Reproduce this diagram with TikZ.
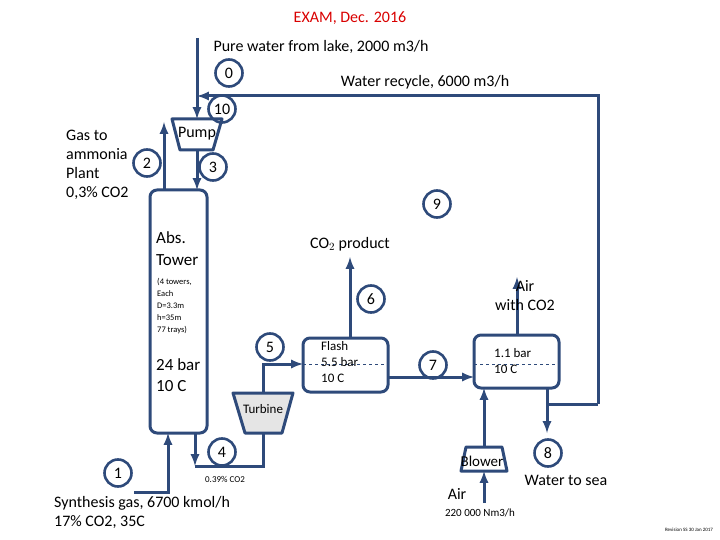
\documentclass[tikz,border=0pt]{standalone}
\usepackage{fontspec}
\setmainfont{Carlito}
\usetikzlibrary{calc}
\definecolor{flow}{RGB}{46,74,122}
\tikzset{
  pipe/.style={draw=flow, line width=3pt, -latex},
  line/.style={draw=flow, line width=3pt},
  num/.style={circle, draw=flow, line width=2.6pt, minimum size=27pt, inner sep=0pt, font=\fontsize{16}{16}\selectfont},
  unit/.style={draw=flow, line width=3pt, rounded corners=7pt},
  lbl/.style={font=\fontsize{16}{19}\selectfont, align=left, inner sep=0pt}
}
\begin{document}
\begin{tikzpicture}[x=1pt, y=-1pt]
\useasboundingbox (0,0) rectangle (720,540);

% units
\draw[unit] (150,190) rectangle (207,433);
\draw[unit] (303,338) rectangle (388,392);
\draw[unit] (474,335) rectangle (559,388);
\draw[flow, dashed, thin] (303,364) -- (388,364);
\draw[flow, dashed, thin] (474,364) -- (559,364);
\draw[line, line join=round] (172,119) -- (222,119) -- (213,150) -- (180,150) -- cycle;
\draw[line, fill=black!10, line join=round] (233,393) -- (293,393) -- (282,433) -- (245,433) -- cycle;
\draw[line, line join=round] (466,447) -- (502,447) -- (507,471) -- (461,471) -- cycle;

% connection points
\coordinate (lake) at (197,38);
\coordinate (pumpin) at (197,119);
\coordinate (pumpout) at (197,150);
\coordinate (towertop) at (197,190);
\coordinate (gasout) at (164,122);
\coordinate (gastop) at (164,190);
\coordinate (feed) at (134,492);
\coordinate (towerbot) at (168,433);
\coordinate (liqout) at (195,433);
\coordinate (turbbot) at (263,433);
\coordinate (turbtop) at (263,393);
\coordinate (flashin) at (303,364);
\coordinate (flashtop) at (350,338);
\coordinate (co2) at (350,257);
\coordinate (flashout) at (388,377);
\coordinate (stripin) at (474,377);
\coordinate (striptop) at (517,335);
\coordinate (airout) at (517,277);
\coordinate (stripbot) at (484,388);
\coordinate (blowtop) at (484,447);
\coordinate (airin) at (484,503);
\coordinate (blowbot) at (484,471);
\coordinate (waterout) at (547,388);
\coordinate (sea) at (547,433);

% streams
\draw[pipe] (lake) -- (pumpin);
\draw[pipe] (598,404) -- (598,96) -- (pumpin |- 0,96);
\draw[pipe] (pumpout) -- (towertop);
\draw[pipe] (gastop) -- (gasout);
\draw[pipe] (feed) -- (towerbot |- feed) -- (towerbot);
\draw[line] (turbbot) -- (turbbot |- 0,466) -- (liqout |- 0,466);
\draw[pipe] (liqout) -- (liqout |- 0,466);
\draw[pipe] (turbtop) -- (turbtop |- flashin) -- (flashin);
\draw[pipe] (flashtop) -- (co2);
\draw[pipe] (flashout) -- (stripin);
\draw[pipe] (striptop) -- (airout);
\draw[pipe] (blowtop) -- (stripbot);
\draw[pipe] (airin) -- (blowbot);
\draw[line] (waterout |- 0,404) -- (598,404);
\draw[pipe] (waterout) -- (sea);

% stream numbers
\node[num] (s0) at (229,73) {0};
\node[num] (s1) at (118,473) {1};
\node[num] (s2) at (147,163) {2};
\node[num] (s3) at (213,167) {3};
\node[num] (s4) at (222,452) {4};
\node[num] (s5) at (270,347) {5};
\node[num] (s6) at (371,299) {6};
\node[num] (s7) at (433,365) {7};
\node[num] (s8) at (548,453) {8};
\node[num] (s9) at (437,204) {9};
\node[num] (s10) at (222,109) {10};

% labels
\node[font=\fontsize{16}{16}\selectfont, text=red!85!black] (title) at (350,18) {EXAM, Dec. 2016};
\node[lbl] (lakelbl) at (321,47) {Pure water from lake, 2000 m3/h};
\node[lbl] (reclbl) at (425,82) {Water recycle, 6000 m3/h};
\node[lbl, anchor=north west] (gaslbl) at (66,130) {Gas to\\ammonia\\Plant\\0,3\% CO2};
\node[lbl] (pumplbl) at (197,134) {Pump};
\node[lbl, anchor=north west, font=\fontsize{17}{22}\selectfont] (abslbl) at (156,231) {Abs.\\Tower};
\node[lbl, anchor=north west, font=\fontsize{8.5}{12}\selectfont] (abssub) at (157,278) {(4 towers,\\Each\\D=3.3m\\h=35m\\77 trays)};
\node[lbl, anchor=north west, font=\fontsize{17}{21}\selectfont] (abscond) at (156,358) {24 bar\\10 C};
\node[lbl] (co2lbl) at (350,244) {CO$_2$ product};
\node[lbl, align=center] (airlbl) at (525,296) {Air\\with CO2};
\node[lbl, anchor=north west, font=\fontsize{13}{16}\selectfont] (flashlbl) at (321,341) {Flash\\5.5 bar\\10 C};
\node[lbl, anchor=north west, font=\fontsize{13}{16}\selectfont] (striplbl) at (494,348) {1.1 bar\\10 C};
\node[lbl, font=\fontsize{13}{13}\selectfont] (turblbl) at (263,409) {Turbine};
\node[lbl, font=\fontsize{15}{15}\selectfont] (blowlbl) at (482,461) {Blower};
\node[lbl, font=\fontsize{9}{9}\selectfont] (liqlbl) at (225,479) {0.39\% CO2};
\node[lbl, anchor=north west] (synlbl) at (54,496) {Synthesis gas, 6700 kmol/h\\17\% CO2, 35C};
\node[lbl] (airinlbl) at (457,494) {Air};
\node[lbl, font=\fontsize{11}{11}\selectfont] (airflow) at (480,513) {220 000 Nm3/h};
\node[lbl] (sealbl) at (566,480) {Water to sea};
\node[lbl, font=\fontsize{5}{5}\selectfont] (rev) at (689,530) {Revision SS 30 Jan 2017};
\end{tikzpicture}
\end{document}
